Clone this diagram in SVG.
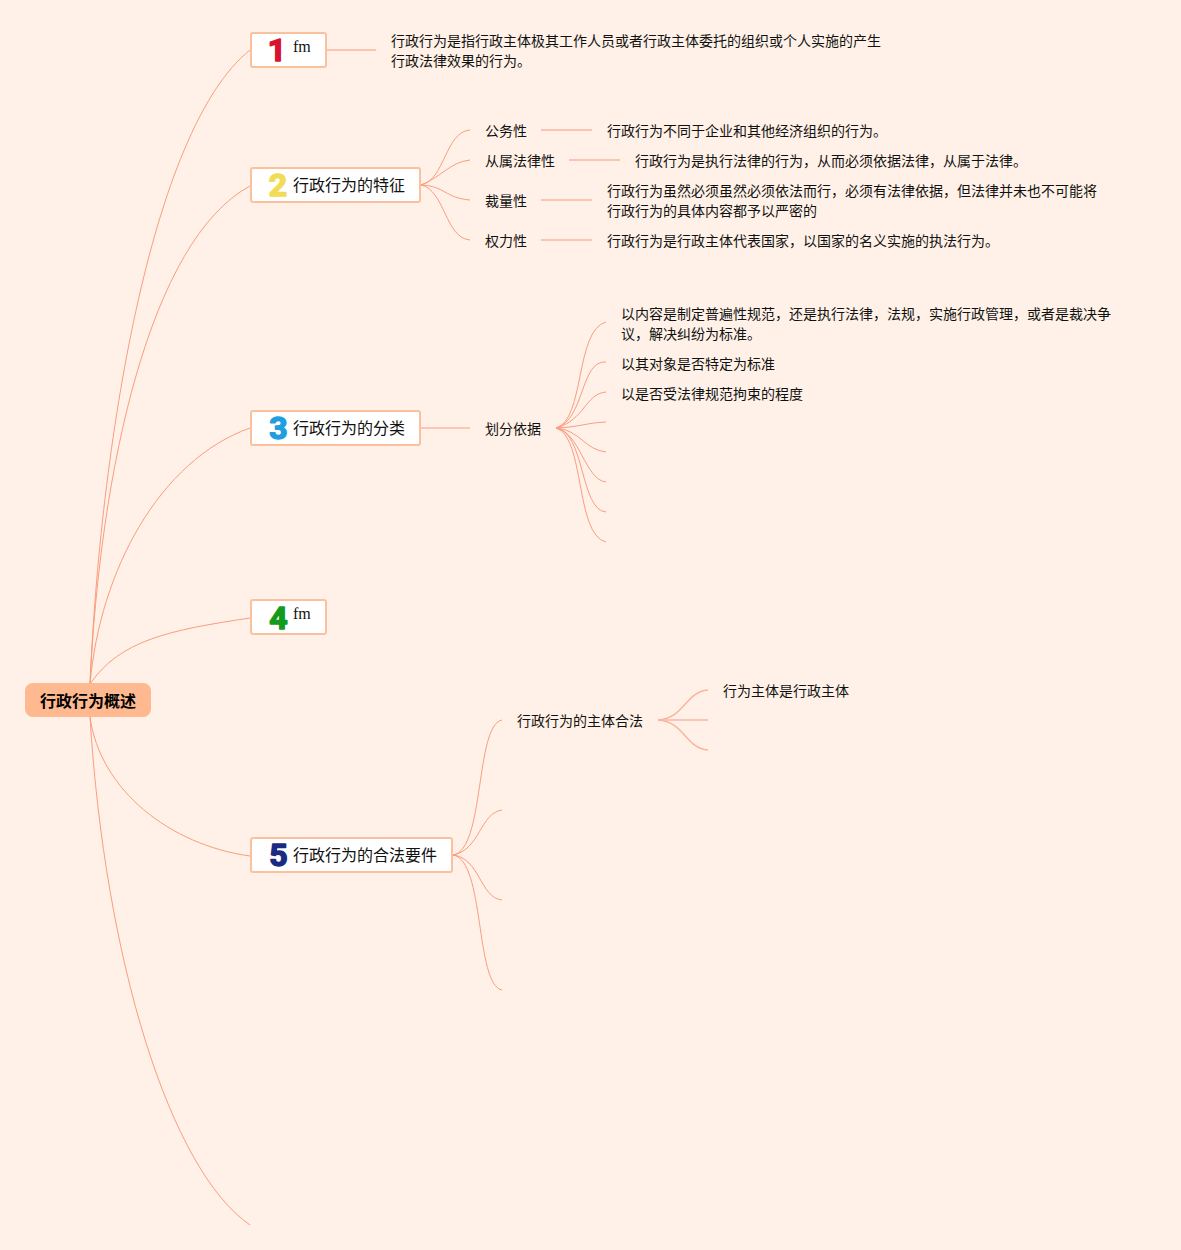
<svg xmlns="http://www.w3.org/2000/svg" width="1181" height="1250" viewBox="0 0 1181 1250">
<style>
text{font-family:"Liberation Serif","Noto Sans CJK SC",sans-serif;font-size:14px;fill:#111}
.t{font-size:16px}
.r{font-size:16px;font-weight:bold;fill:#000}
.fm{font-size:16px}
.n{fill:#fff;stroke:#fbc19f;stroke-width:2}
.d{font-family:Roboto,"Liberation Sans",sans-serif;font-size:32px;font-weight:bold;text-anchor:middle;stroke-width:1.5;stroke-linejoin:round}
#connectors path{fill:none;stroke:#fb9c7e;stroke-width:1}
#connectors .s{stroke:#fbb59c;stroke-width:1.5}
</style>
<rect width="1181" height="1250" fill="#fff1e7"/>
<g id="connectors">
<path d="M90 684C100 450 150 130 250 50"/>
<path d="M90 684C100 470 150 240 250 186"/>
<path d="M90 684C100 570 160 460 250 428"/>
<path d="M90 684C120 640 170 630 250 618"/>
<path d="M90 717C100 790 170 845 250 856"/>
<path d="M90 717C105 960 170 1170 250 1225"/>
<path class="s" d="M327 50H376"/>
<path d="M421 185C445 180 445 132 470 130"/>
<path d="M421 185C440 178 450 162 470 160"/>
<path d="M421 185C445 186 445 198 470 200"/>
<path d="M421 185C445 190 445 238 470 240"/>
<path class="s" d="M541 130H592"/>
<path class="s" d="M569 160H620"/>
<path class="s" d="M541 200H592"/>
<path class="s" d="M541 240H592"/>
<path d="M421 428H470"/>
<path d="M556 428C585 420 575 330 606 322"/>
<path d="M556 428C585 420 580 360 606 362"/>
<path d="M556 428C585 420 585 394 606 392"/>
<path d="M556 428C580 427 585 423 606 422"/>
<path d="M556 428C580 430 585 450 606 452"/>
<path d="M556 428C580 432 585 480 606 482"/>
<path d="M556 428C585 432 580 510 606 512"/>
<path d="M556 428C585 436 575 535 606 542"/>
<path d="M453 855C485 850 475 725 502 720"/>
<path d="M453 855C480 850 480 813 502 810"/>
<path d="M453 855C480 858 480 898 502 900"/>
<path d="M453 855C485 860 475 985 502 990"/>
<path class="s" d="M658 720C685 718 685 692 708 690"/>
<path class="s" d="M658 720H708"/>
<path class="s" d="M658 720C685 722 685 748 708 750"/>
</g>
<g id="root"><rect x="25" y="683" width="126" height="34" rx="8" fill="#ffb991"/><text class="r" x="40" y="707">行政行为概述</text></g>
<g id="node1"><rect class="n" x="251" y="33" width="75" height="34" rx="2"/><text class="d" x="277" y="61" style="fill:#d8122f;stroke:#d8122f">1</text><text class="fm" x="293" y="52">fm</text></g>
<g id="node1-text"><text x="391" y="46">行政行为是指行政主体极其工作人员或者行政主体委托的组织或个人实施的产生</text><text x="391" y="66">行政法律效果的行为。</text></g>
<g id="node2"><rect class="n" x="251" y="168" width="169" height="34" rx="2"/><text class="d" x="278" y="196" style="fill:#f2dc55;stroke:#f2dc55">2</text><text class="t" x="293" y="191">行政行为的特征</text></g>
<g id="n21"><text x="485" y="136">公务性</text><text x="607" y="136">行政行为不同于企业和其他经济组织的行为。</text></g>
<g id="n22"><text x="485" y="166">从属法律性</text><text x="635" y="166">行政行为是执行法律的行为，从而必须依据法律，从属于法律。</text></g>
<g id="n23"><text x="485" y="206">裁量性</text><text x="607" y="196">行政行为虽然必须虽然必须依法而行，必须有法律依据，但法律并未也不可能将</text><text x="607" y="216">行政行为的具体内容都予以严密的</text></g>
<g id="n24"><text x="485" y="246">权力性</text><text x="607" y="246">行政行为是行政主体代表国家，以国家的名义实施的执法行为。</text></g>
<g id="node3"><rect class="n" x="251" y="411" width="169" height="34" rx="2"/><text class="d" x="278.500" y="439" style="fill:#1f9ee0;stroke:#1f9ee0">3</text><text class="t" x="293" y="434">行政行为的分类</text></g>
<g id="n31"><text x="485" y="434">划分依据</text></g>
<g id="n32"><text x="621" y="319">以内容是制定普遍性规范，还是执行法律，法规，实施行政管理，或者是裁决争</text><text x="621" y="339">议，解决纠纷为标准。</text></g>
<g id="n33"><text x="621" y="369">以其对象是否特定为标准</text></g>
<g id="n34"><text x="621" y="399">以是否受法律规范拘束的程度</text></g>
<g id="node4"><rect class="n" x="251" y="600" width="75" height="34" rx="2"/><text class="d" x="278.500" y="629" style="fill:#149a1c;stroke:#149a1c">4</text><text class="fm" x="293" y="619">fm</text></g>
<g id="node5"><rect class="n" x="251" y="838" width="201" height="34" rx="2"/><text class="d" x="278.500" y="866" style="fill:#1a2a80;stroke:#1a2a80">5</text><text class="t" x="293" y="861">行政行为的合法要件</text></g>
<g id="n51"><text x="517" y="726">行政行为的主体合法</text></g>
<g id="n52"><text x="723" y="696">行为主体是行政主体</text></g>
</svg>
